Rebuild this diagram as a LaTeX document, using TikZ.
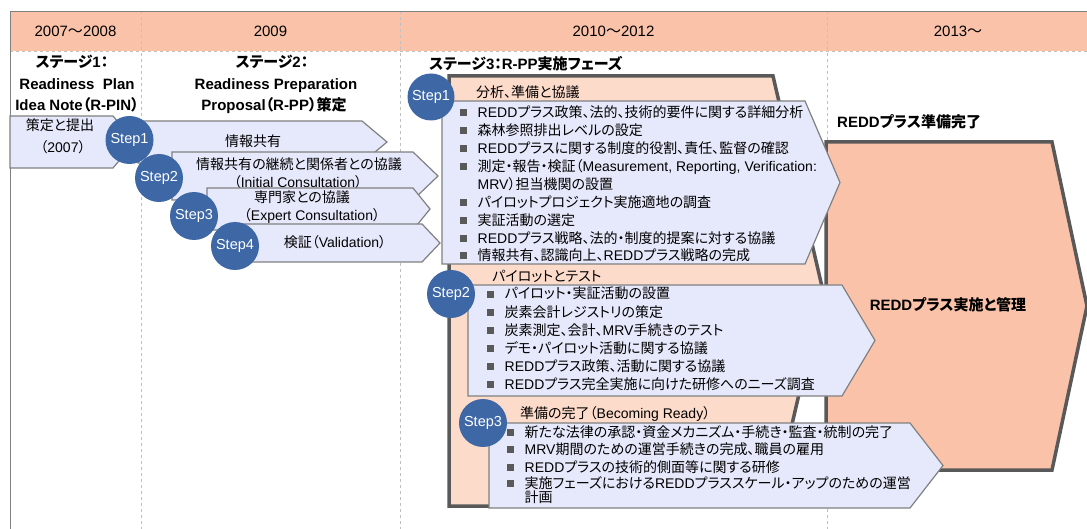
\documentclass[tikz,border=0pt]{standalone}
\usepackage{fontspec}
\setmainfont{Liberation Sans}
\newfontfamily\jpfont[RawFeature=+palt]{Noto Sans CJK JP}
\newfontfamily\enfont{Liberation Sans}
\usetikzlibrary{positioning}

% Japanese characters are set in the CJK face, the rest in Liberation Sans
\XeTeXinterchartokenstate=1
\newXeTeXintercharclass\jpclass
\newcount\jpcc
\newcommand{\jprange}[2]{\jpcc=#1\relax
  \loop\XeTeXcharclass\jpcc=\jpclass\ifnum\jpcc<#2\relax\advance\jpcc by 1\repeat}
\jprange{"3000}{"30FF}
\jprange{"4E00}{"9FFF}
\jprange{"FF00}{"FFEF}
\XeTeXinterchartoks 0 \jpclass = {\jpfont}
\XeTeXinterchartoks 4095 \jpclass = {\jpfont}
\XeTeXinterchartoks \jpclass 0 = {\enfont}
\XeTeXinterchartoks \jpclass 4095 = {\enfont}

\definecolor{bandfill}{HTML}{FAC3A9}
\definecolor{phasefill}{HTML}{FDDBCB}
\definecolor{arrowfill}{HTML}{E6E9FB}
\definecolor{stepblue}{HTML}{3D67A5}
\definecolor{edgegray}{HTML}{808080}
\definecolor{framegray}{HTML}{595959}
\definecolor{gridgray}{HTML}{C0C0C0}

\newcommand{\bul}{\makebox[17.5pt][l]{\textcolor{framegray}{\rule[1.5pt]{7pt}{7pt}}}}
\newcommand{\nobul}{\hspace*{17.5pt}}
% flat-backed arrow: [style] x-left, y-top, x-corner, x-tip, y-bottom
\newcommand{\chevron}[6][]{\draw[#1] (#2,#3) -- (#4,#3) -- (#5,{(#3+#6)/2}) -- (#4,#6) -- (#2,#6) -- cycle;}

\begin{document}
\begin{tikzpicture}[x=1pt, y=-1pt,
txt/.style       ={inner sep=0pt, text height=10.5pt, text depth=0.5pt, font=\fontsize{14}{17}\selectfont},
yearlabel/.style ={txt, font=\fontsize{15}{18}\selectfont},
stagetitle/.style={txt, font=\fontsize{15}{18}\selectfont\bfseries},
item/.style      ={txt, anchor=west},
stepdot/.style   ={circle, fill=stepblue, text=white, minimum size=48pt, inner sep=0pt, font=\fontsize{14.5}{17}\selectfont},
arrowbox/.style  ={fill=arrowfill, draw=edgegray, line width=1.2pt},
phasebox/.style  ={fill=phasefill, draw=framegray, line width=3.5pt},
divider/.style   ={draw=gridgray, dashed, line width=0.8pt},
]
\useasboundingbox (0,0) rectangle (1087,529);

% Time axis
\fill[bandfill] (10,11) rectangle (1087,51);
\draw[divider] (10,51) -- (1087,51);
\draw[divider] (141,11) -- (141,529);
\draw[divider] (400,11) -- (400,529);
\draw[divider] (827,11) -- (827,529);
\draw[edgegray, line width=0.8pt] (10,529) -- (10,11) -- (1087,11);

\node[yearlabel] (yr1) at (75.5,31.5) {2007～2008};
\node[yearlabel] (yr2) at (270.5,31.5) {2009};
\node[yearlabel] (yr3) at (613.5,31.5) {2010～2012};
\node[yearlabel] (yr4) at (958,31.5) {2013～};

% Stage titles
\node[stagetitle] (stg1a) at (72,63) {ステージ1：};
\node[stagetitle] (stg1b) at (77,85) {Readiness\ \ Plan};
\node[stagetitle] (stg1c) at (77,106) {Idea Note（R-PIN）};
\node[stagetitle] (stg2a) at (272,63) {ステージ2：};
\node[stagetitle] (stg2b) at (276,85) {Readiness Preparation};
\node[stagetitle] (stg2c) at (274,106) {Proposal（R-PP）策定};
\node[stagetitle, anchor=west] (stg3) at (429,65) {ステージ3：R-PP実施フェーズ};

% Stage 1
\chevron[arrowbox]{10}{116}{113}{135}{168}
\node[txt] (pin1) at (60,126) {策定と提出};
\node[txt] (pin2) at (63,148) {（2007）};

% Stage 2
\chevron[arrowbox]{138}{121}{362}{387}{163}
\node[txt] (info) at (253,142) {情報共有};
\node[stepdot] (c1) at (129.5,140) {Step1};
\chevron[arrowbox]{172}{152}{413}{438}{200}
\node[txt] (cons1) at (299,165) {情報共有の継続と関係者との協議};
\node[txt] (cons2) at (298,183) {（Initial Consultation）};
\node[stepdot] (c2) at (159,178) {Step2};
\chevron[arrowbox]{207}{188}{413}{430}{230}
\node[txt] (expt1) at (302,198) {専門家との協議};
\node[txt] (expt2) at (312,216) {（Expert Consultation）};
\node[stepdot] (c3) at (194,216) {Step3};
\chevron[arrowbox]{240}{224}{422}{440}{262}
\node[txt] (valid) at (335,243) {検証（Validation）};
\node[stepdot] (c4) at (235,246) {Step4};

% Stage 3 and beyond
\chevron[phasebox]{449}{76}{773}{823}{506}
\chevron[phasebox, fill=bandfill]{826}{142}{1052}{1087}{470}
\node[stagetitle, anchor=west] (ready) at (837,123) {REDDプラス準備完了};
\node[stagetitle] (impl) at (948,306) {REDDプラス実施と管理};

\node[item] (ph1) at (476,93) {分析、準備と協議};
\chevron[arrowbox]{442}{101}{805}{840}{264}
\node[item] (a1) at (460,113) {\bul REDDプラス政策、法的、技術的要件に関する詳細分析};
\node[item] (a2) at (460,131) {\bul 森林参照排出レベルの設定};
\node[item] (a3) at (460,149) {\bul REDDプラスに関する制度的役割、責任、監督の確認};
\node[item] (a4) at (460,167) {\bul 測定・報告・検証（Measurement, Reporting, Verification:};
\node[item] (a5) at (460,185) {\nobul MRV）担当機関の設置};
\node[item] (a6) at (460,203) {\bul パイロットプロジェクト実施適地の調査};
\node[item] (a7) at (460,221) {\bul 実証活動の選定};
\node[item] (a8) at (460,238.5) {\bul REDDプラス戦略、法的・制度的提案に対する協議};
\node[item] (a9) at (460,256) {\bul 情報共有、認識向上、REDDプラス戦略の完成};
\node[stepdot, minimum size=47pt] (k1) at (431,97) {Step1};

\node[item] (ph2) at (492,277) {パイロットとテスト};
\chevron[arrowbox]{468}{285}{842}{875}{396}
\node[item] (b1) at (487,294) {\bul パイロット・実証活動の設置};
\node[item] (b2) at (487,312) {\bul 炭素会計レジストリの策定};
\node[item] (b3) at (487,330) {\bul 炭素測定、会計、MRV手続きのテスト};
\node[item] (b4) at (487,348) {\bul デモ・パイロット活動に関する協議};
\node[item] (b5) at (487,366) {\bul REDDプラス政策、活動に関する協議};
\node[item] (b6) at (487,384) {\bul REDDプラス完全実施に向けた研修へのニーズ調査};
\node[stepdot] (k2) at (451,294) {Step2};

\node[item] (ph3) at (520,413) {準備の完了（Becoming Ready）};
\chevron[arrowbox]{489}{423}{910}{943}{508}
\node[item] (d1) at (507,432) {\bul 新たな法律の承認・資金メカニズム・手続き・監査・統制の完了};
\node[item] (d2) at (507,449) {\bul MRV期間のための運営手続きの完成、職員の雇用};
\node[item] (d3) at (507,467) {\bul REDDプラスの技術的側面等に関する研修};
\node[item] (d4) at (507,483.5) {\bul 実施フェーズにおけるREDDプラススケール・アップのための運営};
\node[item] (d5) at (507,497.5) {\nobul 計画};
\node[stepdot] (k3) at (483,423) {Step3};

\end{tikzpicture}
\end{document}
